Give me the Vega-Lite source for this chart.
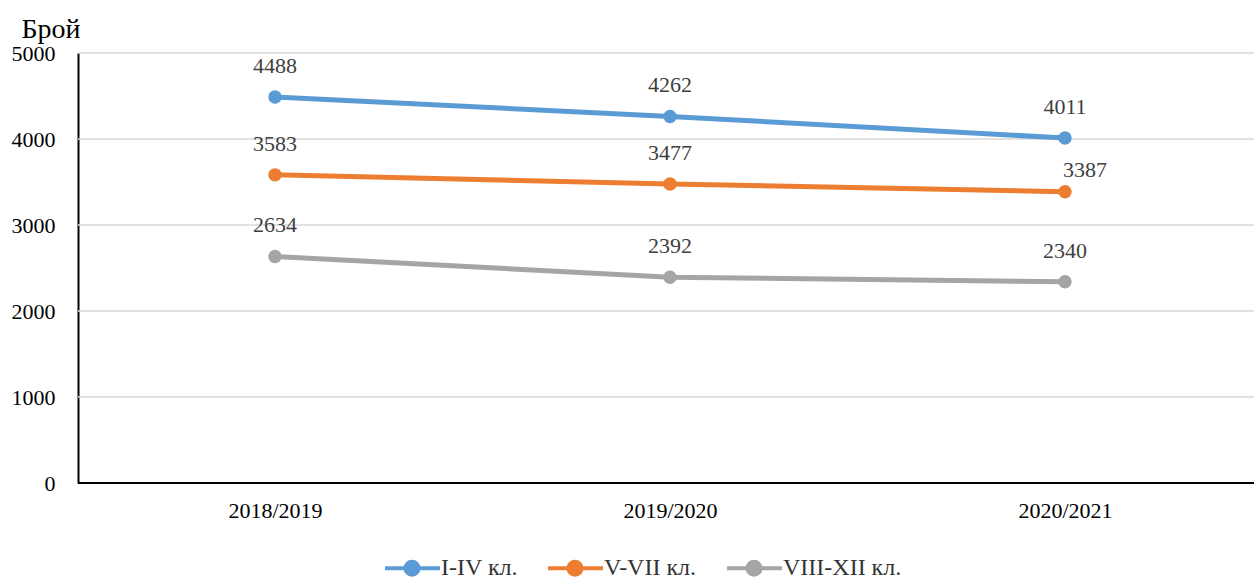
{
  "$schema": "https://vega.github.io/schema/vega-lite/v6.json",
  "width": 1176,
  "height": 430,
  "autosize": {"type": "none"},
  "padding": {"left": 78, "top": 53, "right": 0, "bottom": 97},
  "config": {"view": {"stroke": null}, "font": "Liberation Serif"},
  "datasets": {
    "counts": [
      {"year": "2018/2019", "group": "I-IV кл.", "count": 4488},
      {"year": "2019/2020", "group": "I-IV кл.", "count": 4262},
      {"year": "2020/2021", "group": "I-IV кл.", "count": 4011},
      {"year": "2018/2019", "group": "V-VII кл.", "count": 3583},
      {"year": "2019/2020", "group": "V-VII кл.", "count": 3477},
      {"year": "2020/2021", "group": "V-VII кл.", "count": 3387},
      {"year": "2018/2019", "group": "VIII-XII кл.", "count": 2634},
      {"year": "2019/2020", "group": "VIII-XII кл.", "count": 2392},
      {"year": "2020/2021", "group": "VIII-XII кл.", "count": 2340}
    ],
    "grid": [
      {"g": 1000}, {"g": 2000}, {"g": 3000}, {"g": 4000}, {"g": 5000}
    ]
  },
  "layer": [
    {
      "data": {"name": "grid"},
      "mark": {"type": "rule", "color": "#d9d9d9", "strokeWidth": 1.5},
      "encoding": {
        "y": {
          "field": "g",
          "type": "quantitative",
          "scale": {"domain": [0, 5000]},
          "axis": {
            "values": [0, 1000, 2000, 3000, 4000, 5000],
            "format": "d",
            "title": "Брой",
            "titleAngle": 0,
            "titleAlign": "left",
            "titleBaseline": "alphabetic",
            "titleX": -57,
            "titleY": -16,
            "titleFont": "Liberation Serif",
            "titleFontSize": 28,
            "titleFontWeight": "normal",
            "titleColor": "#000000",
            "ticks": false,
            "tickSize": 0,
            "labelPadding": 23,
            "labelFont": "Liberation Serif",
            "labelFontSize": 22,
            "labelColor": "#000000",
            "domainColor": "#000000",
            "domainWidth": 2,
            "grid": false
          }
        }
      }
    },
    {
      "data": {"name": "counts"},
      "encoding": {
        "x": {
          "field": "year",
          "type": "ordinal",
          "scale": {"type": "point", "range": [197, 987], "padding": 0},
          "axis": {
            "title": null,
            "labelAngle": 0,
            "domain": false,
            "ticks": false,
            "tickSize": 0,
            "grid": false,
            "labelFont": "Liberation Serif",
            "labelFontSize": 22,
            "labelColor": "#000000",
            "labelPadding": 17
          }
        },
        "y": {
          "field": "count",
          "type": "quantitative",
          "scale": {"domain": [0, 5000]},
          "axis": {
            "values": [0, 1000, 2000, 3000, 4000, 5000],
            "format": "d",
            "title": "Брой",
            "titleAngle": 0,
            "titleAlign": "left",
            "titleBaseline": "alphabetic",
            "titleX": -57,
            "titleY": -16,
            "titleFont": "Liberation Serif",
            "titleFontSize": 28,
            "titleFontWeight": "normal",
            "titleColor": "#000000",
            "ticks": false,
            "tickSize": 0,
            "labelPadding": 23,
            "labelFont": "Liberation Serif",
            "labelFontSize": 22,
            "labelColor": "#000000",
            "domainColor": "#000000",
            "domainWidth": 2,
            "grid": false
          }
        },
        "color": {
          "field": "group",
          "type": "nominal",
          "scale": {
            "domain": ["I-IV кл.", "V-VII кл.", "VIII-XII кл."],
            "range": ["#5B9BD5", "#ED7D31", "#A5A5A5"]
          },
          "legend": {
            "title": null,
            "orient": "none",
            "legendX": 305,
            "legendY": 503,
            "direction": "horizontal",
            "symbolType": "M-1,0L4.5,0M2.35,0A0.65,0.65,0,1,1,1.05,0A0.65,0.65,0,1,1,2.35,0Z",
            "symbolSize": 400,
            "symbolStrokeWidth": 4,
            "labelFont": "Liberation Serif",
            "labelFontSize": 24,
            "labelColor": "#333333",
            "labelOffset": 34,
            "columnPadding": 22,
            "encode": {
              "symbols": {
                "update": {
                  "fill": {"scale": "color", "field": "value"},
                  "stroke": {"scale": "color", "field": "value"},
                  "strokeWidth": {"value": 4},
                  "opacity": {"value": 1}
                }
              }
            }
          }
        }
      },
      "layer": [
        {"mark": {"type": "line", "strokeWidth": 5}},
        {"mark": {"type": "point", "filled": true, "size": 180, "opacity": 1}},
        {
          "transform": [{"filter": "datum.count !== 3387"}],
          "mark": {"type": "text", "dy": -31, "fontSize": 22, "font": "Liberation Serif"},
          "encoding": {"text": {"field": "count", "type": "quantitative"}, "color": {"value": "#404040"}}
        },
        {
          "transform": [{"filter": "datum.count === 3387"}],
          "mark": {"type": "text", "dy": -22, "dx": 20, "fontSize": 22, "font": "Liberation Serif"},
          "encoding": {"text": {"field": "count", "type": "quantitative"}, "color": {"value": "#404040"}}
        }
      ]
    },
    {
      "data": {"values": [{"z": 0}]},
      "mark": {"type": "rule", "color": "#000000", "strokeWidth": 2},
      "encoding": {"y": {"field": "z", "type": "quantitative"}}
    }
  ]
}
